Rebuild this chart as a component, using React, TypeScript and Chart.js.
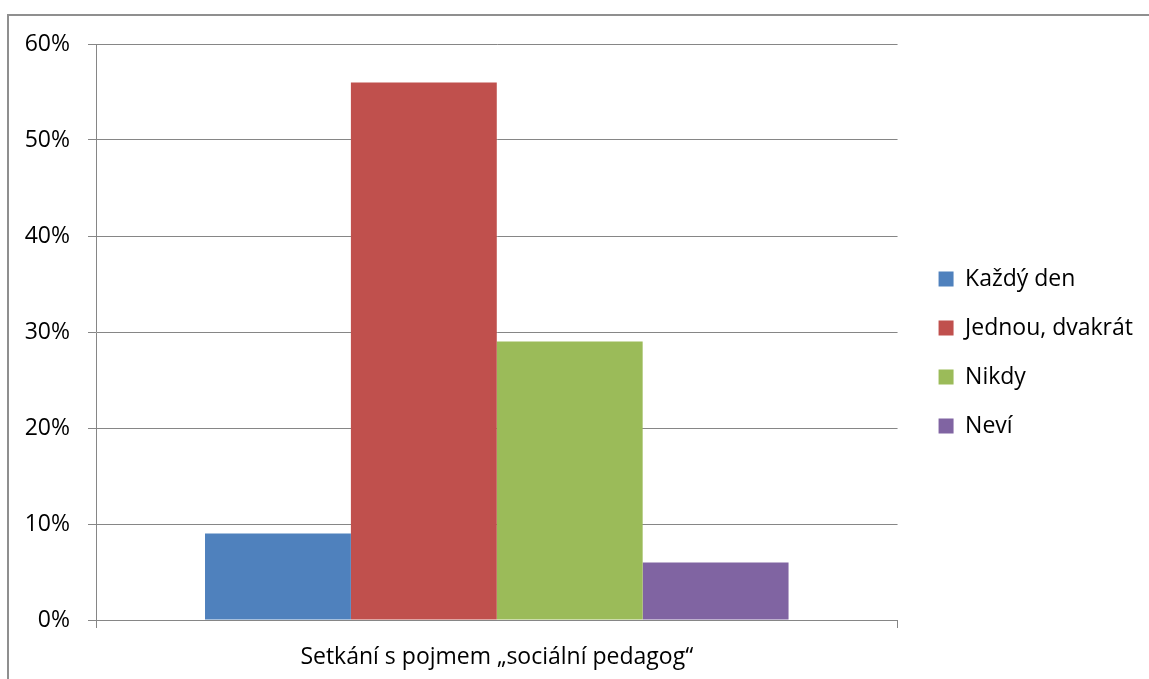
import React, { useEffect, useRef } from "react";
import { Chart, registerables } from "chart.js";

Chart.register(...registerables);

const categories = ["Setkání s pojmem „sociální pedagog“"];
const seriesNames = ["Každý den", "Jednou, dvakrát", "Nikdy", "Neví"];
const seriesValues = [9, 56, 29, 6];
const seriesColors = ["#4F81BD", "#C0504D", "#9BBB59", "#8064A2"];
const yTicks = [0, 10, 20, 30, 40, 50, 60];

const FONT = "'Open Sans', 'Noto Sans', sans-serif";
const FONT_SIZE = 23;
const GRID = "#868686";

// Outer frame of the chart (only the top and left edges fall inside the view)
const framePlugin = {
  id: "frame",
  beforeDraw(chart: Chart) {
    const ctx = chart.ctx;
    ctx.save();
    ctx.strokeStyle = "#8f8f8f";
    ctx.lineWidth = 2;
    ctx.beginPath();
    ctx.moveTo(8, chart.height);
    ctx.lineTo(8, 15);
    ctx.lineTo(chart.width, 15);
    ctx.stroke();
    ctx.restore();
  },
};

// Nudge the legend box so it sits a little further from the plot area
const legendOffsetPlugin = {
  id: "legendOffset",
  afterLayout(chart: any) {
    const lg = chart.legend;
    if (!lg) return;
    const dx = 15;
    const dy = -9;
    lg.left += dx;
    lg.right += dx;
    lg.top += dy;
    lg.bottom += dy;
  },
};

export default function App() {
  const ref = useRef<HTMLCanvasElement | null>(null);

  useEffect(() => {
    if (!ref.current) return;
    const chart = new Chart(ref.current, {
      type: "bar",
      data: {
        labels: categories,
        datasets: seriesNames.map((name, i) => ({
          label: name,
          data: [seriesValues[i]],
          backgroundColor: seriesColors[i],
          borderWidth: 0,
          barPercentage: 1,
          categoryPercentage: 0.728,
        })),
      },
      options: {
        responsive: false,
        animation: false,
        layout: { padding: { top: 44, left: 10, right: 21, bottom: 0 } },
        plugins: {
          legend: {
            position: "right",
            align: "center",
            labels: {
              boxWidth: 15,
              boxHeight: 15,
              padding: 26,
              color: "#000",
              font: { family: FONT, size: FONT_SIZE },
            },
          },
          tooltip: { enabled: false },
        },
        scales: {
          x: {
            afterFit(scale: any) {
              scale.height = 59;
            },
            grid: {
              display: true,
              drawOnChartArea: false,
              color: GRID,
              tickLength: 8,
              offset: true,
            },
            border: { color: GRID, width: 1 },
            ticks: {
              color: "#000",
              font: { family: FONT, size: FONT_SIZE },
              padding: 16,
            },
          },
          y: {
            min: 0,
            max: 60,
            afterBuildTicks(scale: any) {
              scale.ticks = yTicks.map((v) => ({ value: v }));
            },
            afterFit(scale: any) {
              scale.width = 86;
            },
            grid: { color: GRID, tickLength: 8 },
            border: { color: GRID, width: 1 },
            ticks: {
              color: "#000",
              font: { family: FONT, size: FONT_SIZE },
              padding: 18,
              callback: (v: any) => `${v}%`,
            },
          },
        },
      },
      plugins: [framePlugin, legendOffsetPlugin],
    });
    return () => chart.destroy();
  }, []);

  return (
    <div style={{ position: "fixed", left: 0, top: 0, width: 1149, height: 679, background: "#fff" }}>
      <canvas ref={ref} width={1149} height={679} />
    </div>
  );
}
